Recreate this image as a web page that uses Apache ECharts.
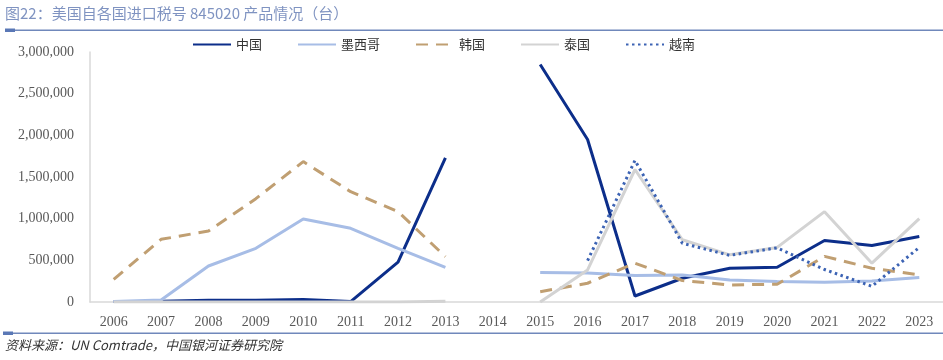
<!DOCTYPE html>
<html><head><meta charset="utf-8">
<script src="https://cdn.jsdelivr.net/npm/echarts@6/dist/echarts.min.js"></script>
<style>html,body{margin:0;padding:0;background:#fff}#c{width:943px;height:360px}</style>
</head><body><div id="c"></div>
<script>
const years = ['2006','2007','2008','2009','2010','2011','2012','2013','2014','2015','2016','2017','2018','2019','2020','2021','2022','2023'];
const china    = [5000, 10000, 20000, 20000, 30000, 5000, 478000, 1730000, null, 2850000, 1950000, 72000, 285000, 405000, 417000, 738000, 678000, 786000];
const mexico   = [5000, 25000, 432000, 644000, 996000, 884000, 644000, 416000, null, 354000, 347000, 318000, 325000, 265000, 245000, 237000, 253000, 293000];
const korea    = [272000, 752000, 852000, 1240000, 1685000, 1324000, 1084000, 544000, null, 124000, 225000, 466000, 258000, 205000, 213000, 547000, 405000, 325000];
const thailand = [0, 0, 0, 0, 0, 0, 0, 10000, null, 0, 385000, 1590000, 747000, 566000, 655000, 1084000, 466000, 1000000];
const vietnam  = [null, null, null, null, null, null, null, null, null, null, 497000, 1698000, 705000, 560000, 650000, 390000, 188000, 655000];
const seriesNames = ['中国','墨西哥','韩国','泰国','越南'];
const titleText = '图22：美国自各国进口税号 845020 产品情况（台）';
const sourceText = '资料来源：UN Comtrade，中国银河证券研究院';

const chart = echarts.init(document.getElementById('c'), null, {renderer:'canvas'});
const mk = (name, data, color, type, cap) => ({
  name, type:'line', data, symbol:'none', connectNulls:false,
  lineStyle:{color, width:3, type, cap:cap||'butt'}, itemStyle:{color}
});
chart.setOption({
  animation:false,
  grid:{left:90, right:-4, top:52, bottom:58},
  legend:{
    left:187, top:33, itemWidth:38, itemHeight:12, itemGap:35,
    itemStyle:{opacity:0},
    textStyle:{fontFamily:'Noto Sans CJK SC', fontSize:13, color:'#333'},
    data: seriesNames
  },
  xAxis:{
    type:'category', data:years, boundaryGap:true,
    axisLine:{lineStyle:{color:'#d9d9d9', width:1.5}},
    axisTick:{show:false},
    axisLabel:{margin:13, fontFamily:'Liberation Serif', fontSize:14, color:'#595959'}
  },
  yAxis:{
    type:'value', min:0, max:3000000, interval:500000,
    axisLine:{show:true, lineStyle:{color:'#d9d9d9', width:1.5}},
    axisTick:{show:false},
    splitLine:{show:false},
    axisLabel:{margin:16, fontFamily:'Liberation Serif', fontSize:14, color:'#595959',
      formatter:v=>v.toLocaleString('en-US')}
  },
  series:[
    mk(seriesNames[0], china, '#0c2e8a', 'solid'),
    mk(seriesNames[1], mexico, '#a7bde6', 'solid'),
    mk(seriesNames[2], korea, '#c09f72', [12,8], 'butt'),
    mk(seriesNames[3], thailand, '#d3d3d3', 'solid'),
    mk(seriesNames[4], vietnam, '#3c63b4', [2.5,3.5], 'butt')
  ],
  graphic:[
    {type:'text', left:5, top:6, style:{text:titleText, fontFamily:'Noto Sans CJK SC', fontSize:15, fill:'#7f93c1'}},
    {type:'rect', shape:{x:5, y:29.5, width:938, height:1.5}, style:{fill:'#7088bb'}},
    {type:'rect', shape:{x:5, y:28.5, width:10, height:3.5}, style:{fill:'#5a78b6'}},
    {type:'rect', shape:{x:3, y:332.5, width:940, height:1.5}, style:{fill:'#7088bb'}},
    {type:'rect', shape:{x:3, y:331.5, width:10, height:3.5}, style:{fill:'#5a78b6'}},
    {type:'text', left:5, top:339, style:{text:sourceText, fontFamily:'Noto Sans CJK SC', fontStyle:'italic', fontSize:13, fill:'#333'}}
  ]
});
</script></body></html>
